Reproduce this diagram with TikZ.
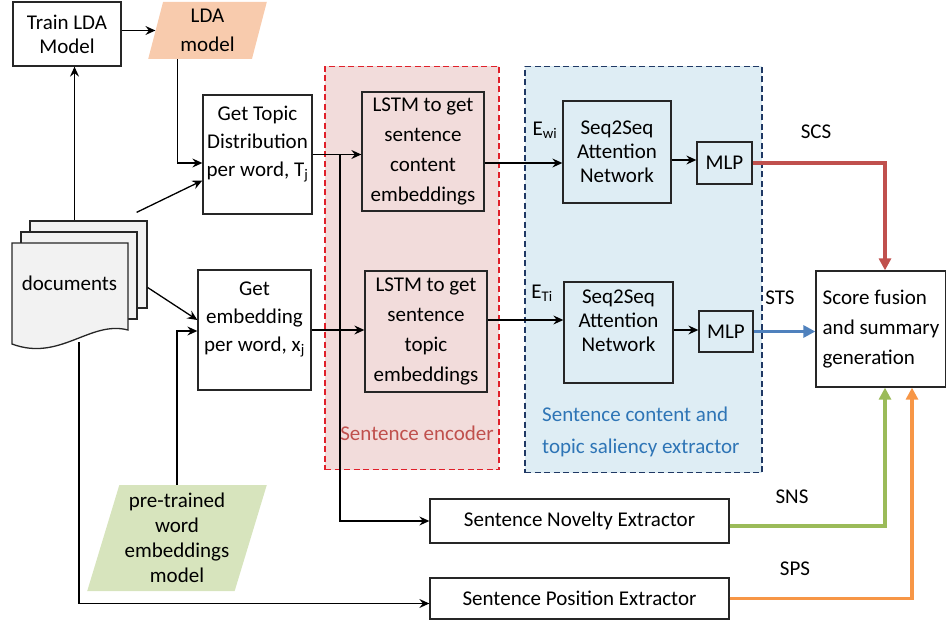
\documentclass[tikz,border=0pt]{standalone}
\usepackage{fontspec}
\setmainfont{Carlito}
\usepackage{xcolor}
\usepackage{tikz}
\usetikzlibrary{positioning, shapes.geometric, arrows.meta}

\definecolor{ldapeach}{HTML}{F8CBAD}
\definecolor{wordgreen}{HTML}{D7E4BD}
\definecolor{pagegray}{HTML}{F2F2F2}
\definecolor{encpink}{HTML}{F2DCDB}
\definecolor{encred}{HTML}{E0202A}
\definecolor{encText}{HTML}{C0504D}
\definecolor{salblue}{HTML}{DEEDF4}
\definecolor{saledge}{HTML}{1F3864}
\definecolor{salText}{HTML}{2E75B6}
\definecolor{scsred}{HTML}{C0504D}
\definecolor{stsblue}{HTML}{4F81BD}
\definecolor{snsgreen}{HTML}{9BBB59}
\definecolor{spsorange}{HTML}{F79646}

\begin{document}
\begin{tikzpicture}[x=1pt, y=-1pt,
  box/.style={draw=black!85, line width=1.3pt, inner sep=0pt, align=center, font=\fontsize{21}{28}\selectfont},
  para/.style={trapezium, trapezium stretches=true, inner sep=0pt, align=center, font=\fontsize{21}{27}\selectfont},
  page/.style={draw=black!85, line width=1.3pt, fill=pagegray, inner sep=0pt},
  region/.style={dashed, dash pattern=on 6pt off 3.5pt, line width=1.8pt, inner sep=0pt},
  conn/.style={line width=1.3pt, -{Stealth[length=10pt, width=9pt, inset=3.5pt]}},
  score/.style={line width=3.8pt, -{Triangle[length=12pt, width=12pt]}},
  lbl/.style={font=\fontsize{21}{24}\selectfont, inner sep=0pt}]
\useasboundingbox (0, 0) rectangle (946, 623);

% regions
\node[region, draw=encred, fill=encpink, minimum width=174, minimum height=403] at (412, 268) (enc) {};
\node[region, draw=saledge, fill=salblue, minimum width=237, minimum height=406] at (643.5, 269.5) (sal) {};
\node[lbl, text=encText] at (417, 433) (enclbl) {Sentence encoder};
\node[lbl, text=salText, align=left, anchor=west, font=\fontsize{21}{32}\selectfont] at (542, 432) (sallbl) {Sentence content and\\topic saliency extractor};

% documents
\node[page, minimum width=117, minimum height=87] at (88.5, 264.5) (docC) {};
\node[page, minimum width=116, minimum height=87] at (79, 275.5) (docB) {};
\draw[page] (12, 243) -- (128, 243) -- (128, 330) .. controls (90, 320) and (60, 362) .. (12, 344) -- cycle;
\node[lbl] at (69.5, 283) (docs) {documents};
\coordinate (docbot) at (79, 342);

\node[box, minimum width=108, minimum height=64, font=\fontsize{21}{24}\selectfont] at (67, 34) (train) {Train LDA\\Model};
\node[para, fill=ldapeach, trapezium left angle=78, trapezium right angle=102, minimum width=119, minimum height=57, font=\fontsize{21}{29}\selectfont] at (207.5, 30.5) (ldam) {LDA\\model};
\node[box, minimum width=109, minimum height=119, text depth=27pt] at (257.5, 154.5) (topic) {Get Topic\\Distribution\\per word, T\textsubscript{j}};
\node[box, minimum width=113, minimum height=120, text depth=27pt] at (254.5, 330) (emb) {Get\\embedding\\per word, x\textsubscript{j}};
\node[para, fill=wordgreen, trapezium left angle=72, trapezium right angle=108, minimum width=180, minimum height=106, font=\fontsize{21}{25}\selectfont] at (177, 538) (pre) {pre-trained\\word\\embeddings\\model};

\node[box, minimum width=122, minimum height=119, font=\fontsize{21}{30}\selectfont] at (423, 151.5) (lstmc) {LSTM to get\\sentence\\content\\embeddings};
\node[box, minimum width=122, minimum height=121, font=\fontsize{21}{30}\selectfont] at (426, 331.5) (lstmt) {LSTM to get\\sentence\\topic\\embeddings};

\node[box, minimum width=108, minimum height=102, font=\fontsize{21}{24}\selectfont] at (617, 152) (seq1) {Seq2Seq\\Attention\\Network};
\node[box, minimum width=109, minimum height=101, font=\fontsize{21}{24}\selectfont, text depth=24pt] at (618.5, 332.5) (seq2) {Seq2Seq\\Attention\\Network};
\node[box, minimum width=55, minimum height=42] at (724.5, 163) (mlp1) {MLP};
\node[box, minimum width=54, minimum height=41] at (726, 331.5) (mlp2) {MLP};

\node[box, minimum width=130, minimum height=116, align=left, font=\fontsize{21}{30}\selectfont] at (881, 329) (fuse) {Score fusion\\and summary\\generation};
\node[box, minimum width=299, minimum height=44] at (579.5, 521) (sne) {Sentence Novelty Extractor};
\node[box, minimum width=299, minimum height=41] at (579.5, 598.5) (spe) {Sentence Position Extractor};

\node[lbl] at (545, 130) (ewi) {E\textsubscript{wi}};
\node[lbl] at (542, 293) (eti) {E\textsubscript{Ti}};
\node[lbl] at (816, 132) (scs) {SCS};
\node[lbl] at (780, 298) (sts) {STS};
\node[lbl] at (792, 497) (sns) {SNS};
\node[lbl] at (795, 569) (sps) {SPS};

% connectors
\draw[conn] (train.east |- ldam.west) -- (ldam.west);
\draw[conn] ([xshift=-14]docC.north) -- ([xshift=-14]docC.north |- train.south);
\draw[conn] ([xshift=-30]ldam.south) |- ([yshift=-8.5]topic.west);
\draw[conn] ([xshift=-11, yshift=8]docC.north east) -- ([yshift=-26]topic.west);
\draw[conn] ([yshift=-23]docC.east) -- ([yshift=10]emb.west);
\draw[conn] (pre.north) |- ([yshift=-1]emb.west);
\draw[conn] (docbot) |- ([yshift=-5]spe.west);
\draw[conn] (topic.east) -- (topic.east -| lstmc.west);
\coordinate (split) at (340, 154.5);
\draw[conn] (split) |- (sne.west);
\draw[conn] (emb.east) -- (emb.east -| lstmt.west);
\draw[conn] ([yshift=-11.5]lstmc.east) -- ([yshift=-11.5]lstmc.east -| seq1.west);
\draw[conn] ([yshift=11.5]lstmt.east) -- ([yshift=11.5]lstmt.east -| seq2.west);
\draw[conn] ([yshift=-8]seq1.east) -- ([yshift=-8]seq1.east -| mlp1.west);
\draw[conn] ([yshift=2.5]seq2.east) -- ([yshift=2.5]seq2.east -| mlp2.west);

\draw[score, color=scsred] (mlp1.east) -| ([xshift=4]fuse.north);
\draw[score, color=stsblue] (mlp2.east) -- (mlp2.east -| fuse.west);
\draw[score, color=snsgreen] ([yshift=-5]sne.east) -| ([xshift=4]fuse.south);
\draw[score, color=spsorange] (spe.east) -| ([xshift=31]fuse.south);

\end{tikzpicture}
\end{document}
